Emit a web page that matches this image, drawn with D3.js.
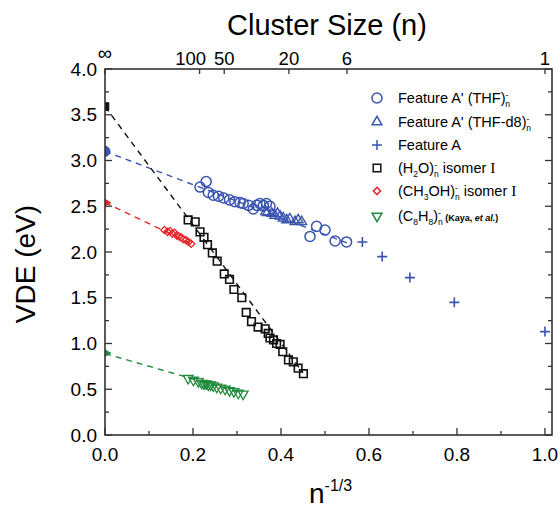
<!DOCTYPE html>
<html>
<head>
<script src="https://d3js.org/d3.v7.min.js"></script>
<style>
  body { margin: 0; background: #fff; }
  svg { font-family: "Liberation Sans", Arial, Helvetica, sans-serif; }
</style>
</head>
<body>
<div id="chart"></div>
<script>
// ---- data ----
var thfX = [0.216, 0.230, 0.235, 0.246, 0.258, 0.270, 0.283, 0.295, 0.307, 0.314, 0.326, 0.337, 0.345, 0.352, 0.360, 0.367, 0.375, 0.466, 0.481, 0.500, 0.523, 0.549];
var thfY = [2.71, 2.77, 2.65, 2.62, 2.61, 2.59, 2.57, 2.55, 2.54, 2.53, 2.51, 2.47, 2.51, 2.53, 2.51, 2.53, 2.50, 2.17, 2.28, 2.24, 2.12, 2.11];

var thfd8X = [0.365, 0.369, 0.379, 0.386, 0.392, 0.398, 0.405, 0.413, 0.420, 0.432, 0.439, 0.447];
var thfd8Y = [2.44, 2.43, 2.42, 2.40, 2.42, 2.39, 2.37, 2.35, 2.36, 2.33, 2.35, 2.33];

var featAX = [0.585, 0.630, 0.693, 0.794, 1.0];
var featAY = [2.11, 1.95, 1.72, 1.45, 1.13];

var h2oX = [0.189, 0.205, 0.216, 0.225, 0.233, 0.244, 0.255, 0.271, 0.283, 0.293, 0.311, 0.321, 0.333, 0.348, 0.364, 0.371, 0.375, 0.383, 0.390, 0.398, 0.404, 0.417, 0.428, 0.439, 0.451];
var h2oY = [2.35, 2.33, 2.22, 2.16, 2.08, 1.99, 1.90, 1.76, 1.70, 1.59, 1.50, 1.34, 1.24, 1.18, 1.16, 1.11, 1.06, 1.04, 1.00, 0.99, 0.91, 0.82, 0.80, 0.73, 0.67];

var ch3ohX = [0.135, 0.142, 0.148, 0.153, 0.158, 0.163, 0.168, 0.173, 0.178, 0.184, 0.190, 0.196];
var ch3ohY = [2.24, 2.22, 2.23, 2.20, 2.21, 2.18, 2.17, 2.16, 2.14, 2.13, 2.11, 2.09];

var c8h8X = [0.189, 0.201, 0.212, 0.220, 0.225, 0.230, 0.235, 0.240, 0.246, 0.254, 0.263, 0.273, 0.283, 0.293, 0.303, 0.314];
var c8h8Y = [0.62, 0.60, 0.585, 0.567, 0.56, 0.56, 0.549, 0.549, 0.538, 0.524, 0.513, 0.502, 0.487, 0.476, 0.458, 0.448];

// bulk-limit (n = infinity) intercepts
var limitY = { thf: 3.10, h2o: 3.59, ch3oh: 2.54, c8h8: 0.895 };

// dashed extrapolation lines [x0, y0, x1, y1]
var thfFit = [0, 3.10, 0.55, 2.10];
var h2oFit = [0, 3.59, 0.45, 0.68];
var ch3ohFit = [0, 2.54, 0.20, 2.08];
var c8h8Fit = [0, 0.89, 0.31, 0.46];

var xTicks = [0, 0.2, 0.4, 0.6, 0.8, 1.0];
var yTicks = [0, 0.5, 1.0, 1.5, 2.0, 2.5, 3.0, 3.5, 4.0];
var topLabels = ["\u221E", "100", "50", "20", "6", "1"];
var topPos = [0, 0.215, 0.271, 0.418, 0.550, 1.0];

var blue = "#3a55b0", red = "#e8262a", green = "#1f8a3b", black = "#111";

// ---- layout ----
var width = 560, height = 508;
var pLeft = 105, pRight = 552, pTop = 69, pBottom = 435;

var x = d3.scaleLinear().domain([0, 1.016]).range([pLeft, pRight]);
var y = d3.scaleLinear().domain([0, 4]).range([pBottom, pTop]);

var svg = d3.select("#chart").append("svg").attr("width", width).attr("height", height);

svg.append("defs").append("clipPath").attr("id", "plotclip")
  .append("rect").attr("x", pLeft).attr("y", pTop).attr("width", pRight - pLeft).attr("height", pBottom - pTop);

var plot = svg.append("g").attr("clip-path", "url(#plotclip)");

function zip(xs, ys) { return xs.map(function (v, i) { return [v, ys[i]]; }); }

// dashed lines
[[thfFit, blue], [h2oFit, black], [ch3ohFit, red], [c8h8Fit, green]].forEach(function (f) {
  plot.append("line")
    .attr("x1", x(f[0][0])).attr("y1", y(f[0][1]))
    .attr("x2", x(f[0][2])).attr("y2", y(f[0][3]))
    .attr("stroke", f[1]).attr("stroke-width", 1.4).attr("stroke-dasharray", "6,5");
});

var sym = {
  circle: d3.symbol().type(d3.symbolCircle).size(80),
  square: d3.symbol().type(d3.symbolSquare).size(58),
  tri: d3.symbol().type(d3.symbolTriangle).size(42),
  diamond: d3.symbol().type(d3.symbolSquare).size(26),
  plus: function () { return "M-5,0H5M0,-5V5"; }
};

function drawPoints(g, pts, shape, color, rot, sw) {
  g.selectAll(null).data(pts).enter().append("path")
    .attr("d", sym[shape])
    .attr("transform", function (d) { return "translate(" + x(d[0]) + "," + y(d[1]) + ")" + (rot ? " rotate(" + rot + ")" : ""); })
    .attr("fill", "none").attr("stroke", color).attr("stroke-width", sw || 1.5);
}

drawPoints(plot, zip(ch3ohX, ch3ohY), "diamond", red, 45, 1.3);
drawPoints(plot, zip(c8h8X, c8h8Y), "tri", green, 180, 1.3);
drawPoints(plot, zip(h2oX, h2oY), "square", black, 0, 1.6);
drawPoints(plot, zip(thfd8X, thfd8Y), "tri", blue, 0, 1.4);
drawPoints(plot, zip(thfX, thfY), "circle", blue, 0, 1.5);
drawPoints(plot, zip(featAX, featAY), "plus", blue, 0, 1.6);

// filled limit markers at n = infinity
[["circle", limitY.thf, blue, 0], ["square", limitY.h2o, black, 0], ["tri", limitY.ch3oh, red, 90], ["tri", limitY.c8h8, green, 90]].forEach(function (m) {
  plot.append("path").attr("d", sym[m[0]])
    .attr("transform", "translate(" + x(0) + "," + y(m[1]) + ") rotate(" + m[3] + ")")
    .attr("fill", m[2]).attr("stroke", m[2]);
});

// ---- axes / frame ----
var axisColor = "#333";
svg.append("rect").attr("x", pLeft).attr("y", pTop).attr("width", pRight - pLeft).attr("height", pBottom - pTop)
  .attr("fill", "none").attr("stroke", axisColor).attr("stroke-width", 1.6);

var tickG = svg.append("g").attr("stroke", axisColor).attr("stroke-width", 1.3);
d3.range(0, 1.01, 0.1).forEach(function (v, i) {
  var len = i % 2 === 0 ? 7 : 4;
  tickG.append("line").attr("x1", x(v)).attr("x2", x(v)).attr("y1", pBottom).attr("y2", pBottom - len);
});
d3.range(0, 4.01, 0.25).forEach(function (v, i) {
  var len = i % 2 === 0 ? 7 : 4;
  tickG.append("line").attr("x1", pLeft).attr("x2", pLeft + len).attr("y1", y(v)).attr("y2", y(v));
  tickG.append("line").attr("x1", pRight).attr("x2", pRight - len).attr("y1", y(v)).attr("y2", y(v));
});
topPos.forEach(function (v) {
  tickG.append("line").attr("x1", x(v)).attr("x2", x(v)).attr("y1", pTop).attr("y2", pTop + 5);
});

var lab = svg.append("g").attr("fill", "#000").attr("font-size", 19);
lab.selectAll(null).data(xTicks).enter().append("text")
  .attr("x", function (d) { return x(d); }).attr("y", 461)
  .attr("text-anchor", "middle").text(d3.format(".1f"));
lab.selectAll(null).data(yTicks).enter().append("text")
  .attr("x", 97).attr("y", function (d) { return y(d); }).attr("dy", "0.35em")
  .attr("text-anchor", "end").text(d3.format(".1f"));
lab.selectAll(null).data(topLabels).enter().append("text")
  .attr("x", function (d, i) { return x(topPos[i]) + (d === "100" ? -9 : 0); })
  .attr("y", function (d, i) { return i === 0 ? 60 : 65; })
  .attr("font-size", function (d, i) { return i === 0 ? 20 : 18.5; })
  .attr("text-anchor", "middle").text(function (d) { return d; });

svg.append("text").attr("x", 327).attr("y", 35).attr("text-anchor", "middle")
  .attr("font-size", 29).attr("fill", "#000").text("Cluster Size (n)");

svg.append("text").attr("transform", "translate(35,264) rotate(-90)").attr("text-anchor", "middle")
  .attr("font-size", 28).attr("fill", "#000").text("VDE (eV)");

var xt = svg.append("text").attr("x", 309).attr("y", 503).attr("font-size", 28).attr("fill", "#000");
xt.append("tspan").text("n");
xt.append("tspan").attr("font-size", 16).attr("dy", -12).text("-1/3");

// ---- legend ----
var legendItems = [
  { shape: "circle", color: blue, rot: 0, parts: [["Feature A' (THF)"], ["-", "sup"], ["n", "sub"]] },
  { shape: "tri", color: blue, rot: 0, parts: [["Feature A' (THF-d8)"], ["-", "sup"], ["n", "sub"]] },
  { shape: "plus", color: blue, rot: 0, parts: [["Feature A"]] },
  { shape: "square", color: black, rot: 0, parts: [["(H"], ["2", "sub1"], ["O)"], ["-", "sup"], ["n", "sub"], [" isomer "], ["I", "serif"]] },
  { shape: "diamond", color: red, rot: 45, parts: [["(CH"], ["3", "sub1"], ["OH)"], ["-", "sup"], ["n", "sub"], [" isomer "], ["I", "serif"]] },
  { shape: "tri", color: green, rot: 180, parts: [["(C"], ["8", "sub1"], ["H"], ["8", "sub1"], [")"], ["-", "sup"], ["n", "sub"], [" (Kaya, ", "small"], ["et al.", "smallit"], [")", "small"]] }
];
var legendY = [98, 122, 145, 168, 191, 216];

var leg = svg.append("g");
legendItems.forEach(function (it, i) {
  var cy = legendY[i];
  leg.append("path").attr("d", sym[it.shape])
    .attr("transform", "translate(377," + cy + ") rotate(" + it.rot + ")")
    .attr("fill", "none").attr("stroke", it.color).attr("stroke-width", 1.5);
  var t = leg.append("text").attr("x", 398).attr("y", cy + 5).attr("font-size", 14.5).attr("fill", "#000");
  var off = 0;
  it.parts.forEach(function (p) {
    var s = t.append("tspan").text(p[0]);
    var want = 0;
    if (p[1] === "sup") { want = -5; s.attr("font-size", 8.5); }
    else if (p[1] === "sub") { want = 4; s.attr("font-size", 8.5).attr("dx", -3); }
    else if (p[1] === "sub1") { want = 4; s.attr("font-size", 8.5); }
    else if (p[1] === "serif") { s.attr("font-family", "Liberation Serif, Times New Roman, serif").attr("font-size", 15.5); }
    else if (p[1] === "small") { s.attr("font-size", 9).attr("font-weight", "bold"); }
    else if (p[1] === "smallit") { s.attr("font-size", 9).attr("font-style", "italic").attr("font-weight", "bold"); }
    if (want !== off) { s.attr("dy", want - off); off = want; }
  });
});
</script>
</body>
</html>
